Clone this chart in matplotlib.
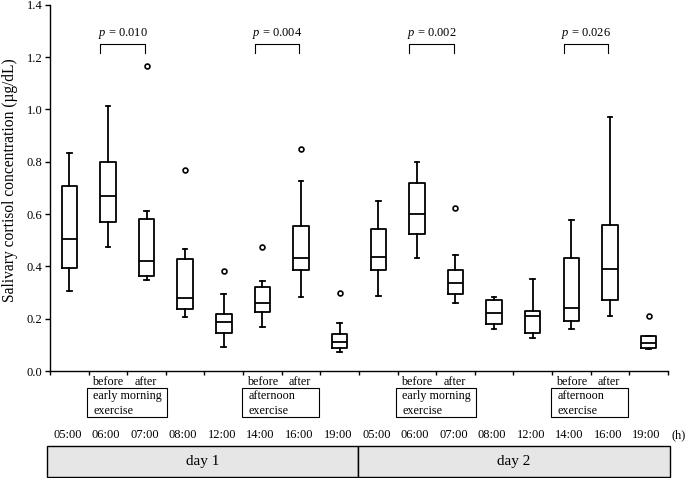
import numpy as np
import matplotlib.pyplot as plt
from matplotlib.patches import Rectangle

plt.rcParams['font.family'] = ['Liberation Serif', 'DejaVu Serif']
plt.rcParams['mathtext.fontset'] = 'custom'
plt.rcParams['mathtext.it'] = 'Liberation Serif:italic'
plt.rcParams['mathtext.rm'] = 'Liberation Serif'

# Data (µg/dL)
hours = ['05:00', '06:00', '07:00', '08:00', '12:00', '14:00', '16:00', '19:00'] * 2
whisker_low = [0.306, 0.473, 0.348, 0.208, 0.093, 0.169, 0.284, 0.071,
               0.288, 0.433, 0.261, 0.162, 0.127, 0.162, 0.210, 0.083]
q1 = [0.393, 0.571, 0.363, 0.236, 0.144, 0.226, 0.386, 0.087,
      0.386, 0.523, 0.293, 0.180, 0.144, 0.191, 0.271, 0.087]
median = [0.503, 0.669, 0.422, 0.278, 0.186, 0.261, 0.433, 0.112,
          0.437, 0.599, 0.335, 0.221, 0.210, 0.242, 0.389, 0.108]
q3 = [0.708, 0.800, 0.581, 0.427, 0.219, 0.322, 0.554, 0.140,
      0.542, 0.720, 0.386, 0.271, 0.231, 0.433, 0.558, 0.134]
whisker_high = [0.834, 1.013, 0.612, 0.468, 0.294, 0.345, 0.725, 0.185,
                0.650, 0.800, 0.443, 0.284, 0.352, 0.576, 0.972, 0.134]
outliers = [[], [], [1.166], [0.768], [0.383], [0.475], [0.849], [0.297],
            [], [], [0.624], [], [], [], [], [0.211]]

p_pairs = [(2, 3), (6, 7), (10, 11), (14, 15)]
p_values = ['0.010', '0.004', '0.002', '0.026']
exercise_labels = ['early morning\nexercise', 'afternoon\nexercise',
                   'early morning\nexercise', 'afternoon\nexercise']
days = ['day 1', 'day 2']

positions = np.arange(1, len(median) + 1)

stats = []
for i in range(len(median)):
    stats.append({'whislo': whisker_low[i], 'q1': q1[i], 'med': median[i],
                  'q3': q3[i], 'whishi': whisker_high[i], 'fliers': outliers[i]})

fig = plt.figure(figsize=(6.85, 4.78), dpi=100)
ax = fig.add_axes([0.073, 0.2238, 0.902, 0.766])

lw = 1.3
ax.bxp(stats, positions=positions, widths=0.4, capwidths=0.12,
       boxprops=dict(color='black', linewidth=lw),
       medianprops=dict(color='black', linewidth=lw),
       whiskerprops=dict(color='black', linewidth=lw),
       capprops=dict(color='black', linewidth=lw),
       flierprops=dict(marker='o', markerfacecolor='white', markeredgecolor='black',
                       markersize=3.5, markeredgewidth=1.2))

ax.set_xlim(0.5, 16.5)
ax.set_ylim(0, 1.4)
ax.set_yticks(np.arange(0, 1.41, 0.2))
ax.set_yticklabels([f'{v:.1f}' for v in np.arange(0, 1.41, 0.2)], fontsize=9)
ax.set_xticks(np.arange(0.5, 16.6, 1))
ax.set_xticklabels([])
ax.tick_params(axis='both', direction='out', width=1.0, color='black')
ax.tick_params(axis='x', length=3)
ax.tick_params(axis='y', length=3.5, pad=2)
for s in ['top', 'right']:
    ax.spines[s].set_visible(False)
for s in ['left', 'bottom']:
    ax.spines[s].set_linewidth(1.0)

ax.set_ylabel('Salivary cortisol concentration (µg/dL)', fontsize=11.2)
ax.yaxis.set_label_coords(-0.051, 0.522)

# significance brackets
for (a, b), p in zip(p_pairs, p_values):
    xl, xr = a - 0.2, b - 0.04
    ax.plot([xl, xl, xr, xr], [1.217, 1.252, 1.252, 1.217], color='black', lw=0.8)
    ax.text((xl + xr) / 2, 1.262, r'$\it{p}$' + ' = ' + p, ha='center', va='bottom', fontsize=9)

# before/after labels and exercise boxes
for (a, b), lab in zip(p_pairs, exercise_labels):
    ax.text(a, -0.042, 'before', ha='center', va='center', fontsize=8.7, clip_on=False)
    ax.text(b - 0.03, -0.042, 'after', ha='center', va='center', fontsize=8.7, clip_on=False)
    if 'morning' in lab:
        x0, x1 = a - 0.55, b + 0.52
    else:
        x0, x1 = a - 0.52, b + 0.46
    ax.add_patch(Rectangle((x0, -0.176), x1 - x0, 0.111, fill=False, ec='black',
                           lw=0.8, clip_on=False))
    lines = lab.split('\n')
    ax.text(x0 + 0.17, -0.096, lines[0], ha='left', va='center', fontsize=8.7, clip_on=False)
    ax.text(x0 + 0.17, -0.153, lines[1], ha='left', va='center', fontsize=8.7, clip_on=False)

# hour labels
for x, h in zip(positions, hours):
    ax.text(x - 0.05, -0.245, h, ha='center', va='center', fontsize=9, clip_on=False)
ax.text(16.77, -0.245, '(h)', ha='center', va='center', fontsize=9, clip_on=False)

# day boxes
day_edges = [0.42, 8.48, 16.56]
for i, d in enumerate(days):
    ax.add_patch(Rectangle((day_edges[i], -0.405), day_edges[i + 1] - day_edges[i], 0.118,
                           fc='#e6e6e6', ec='black', lw=1.0, clip_on=False))
    ax.text((day_edges[i] + day_edges[i + 1]) / 2, -0.346, d, ha='center', va='center',
            fontsize=11, clip_on=False)

fig.savefig('out.png', dpi=100)
